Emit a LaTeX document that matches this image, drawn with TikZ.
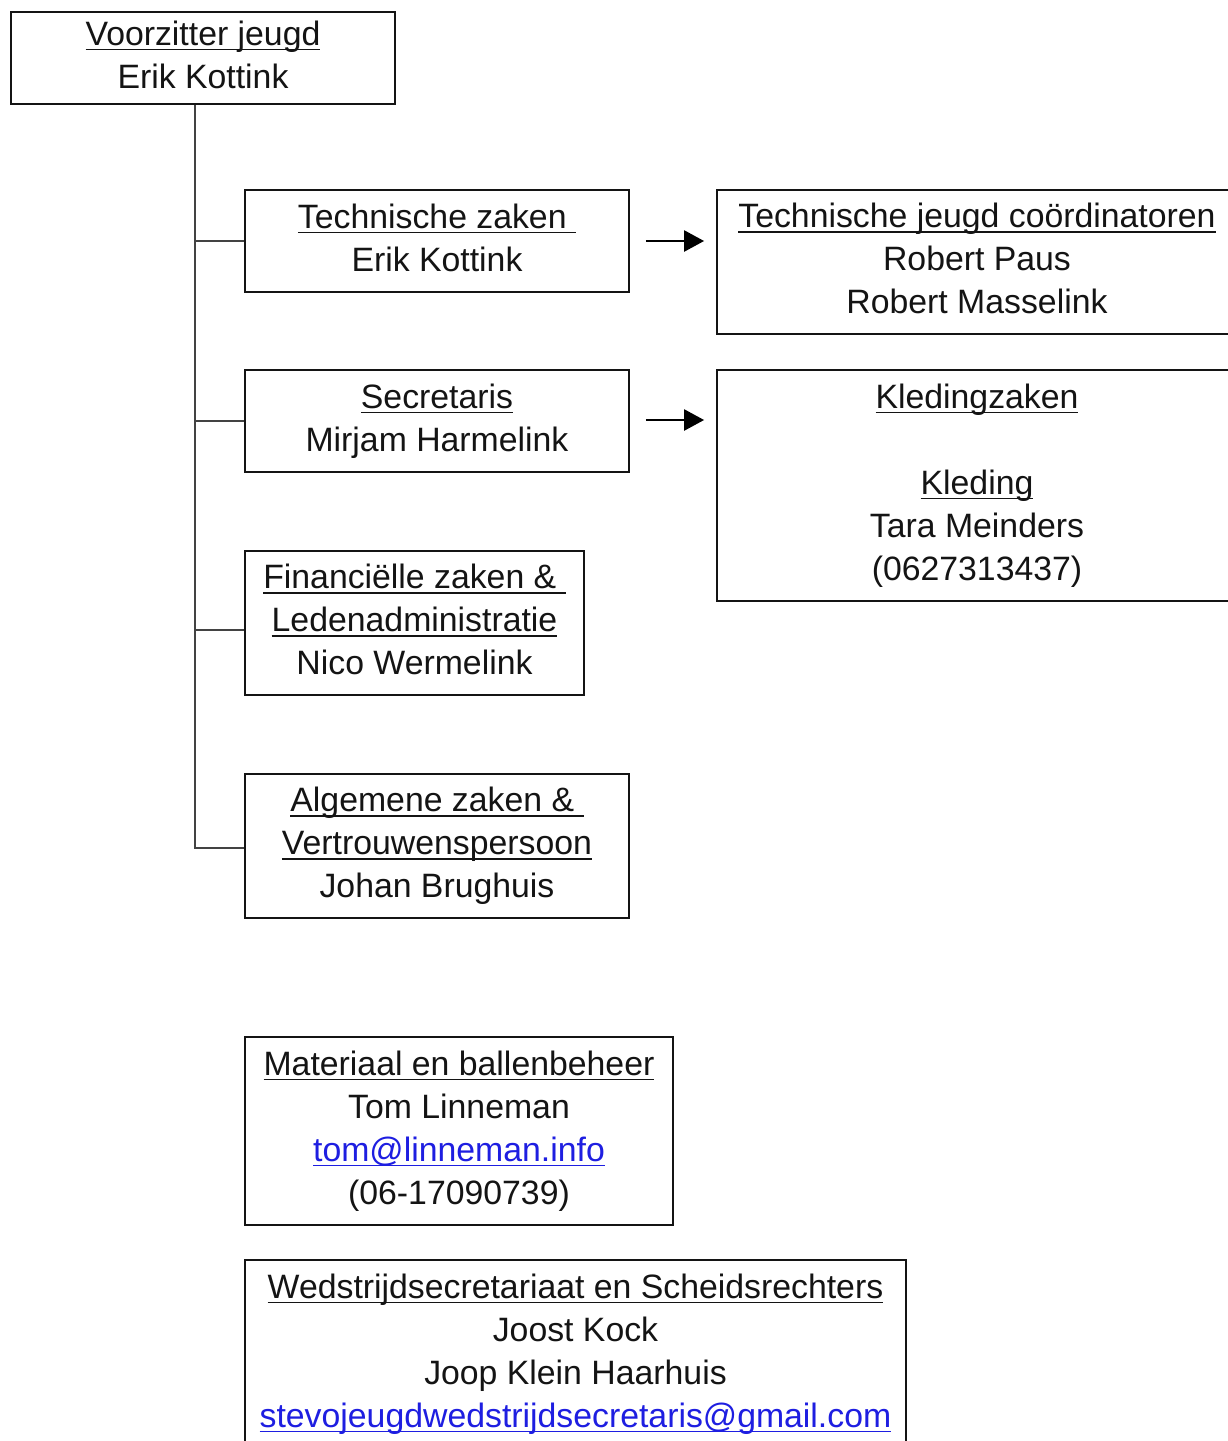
\documentclass[tikz,border=0pt]{standalone}
\usepackage{fontspec}
\setmainfont{Liberation Sans}
\usetikzlibrary{arrows.meta,calc}
\definecolor{linkblue}{RGB}{30,30,225}
\definecolor{ink}{RGB}{20,20,20}
\newcommand\ulin[1]{\leavevmode\setbox0\hbox{#1}\rlap{\rule[-5pt]{\wd0}{1.3pt}}\box0}
\newcommand\ulink[1]{{\color{linkblue}\ulin{#1}}}
\begin{document}
\begin{tikzpicture}[x=1pt,y=-1pt,
  box/.style={draw=ink,line width=1.8pt,inner sep=0pt,align=center,text=ink,
    font=\fontsize{33.8}{43}\selectfont,
    execute at begin node={\rule{0pt}{34.5pt}}},
  conn/.style={draw=ink!80,line width=1.5pt},
  arr/.style={draw=black,line width=2.5pt,-{Triangle[length=20pt,width=21pt]}}]
\fill[white] (0,0) rectangle (1228,1441);
\useasboundingbox (0,0) rectangle (1228,1441);

\node[box,minimum width=384pt,minimum height=92pt] (top) at (203,58)
  {\strut\ulin{Voorzitter jeugd}\\\strut Erik Kottink};
\node[box,minimum width=384pt,minimum height=102pt] (tz) at (437,241)
  {\strut\ulin{Technische zaken\ }\\\strut Erik Kottink};
\node[box,minimum width=384pt,minimum height=102pt] (sec) at (437,421)
  {\strut\ulin{Secretaris}\\\strut Mirjam Harmelink};
\node[box,minimum width=339pt,minimum height=144pt] (fin) at (414.5,623)
  {\strut\ulin{Financiëlle zaken \&\ }\\\strut\ulin{Ledenadministratie}\\\strut Nico Wermelink};
\node[box,minimum width=384pt,minimum height=144pt] (alg) at (437,846)
  {\strut\ulin{Algemene zaken \&\ }\\\strut\ulin{Vertrouwenspersoon}\\\strut Johan Brughuis};
\node[box,minimum width=520pt,minimum height=144pt] (tjc) at (977,262)
  {\strut\ulin{Technische jeugd coördinatoren}\\\strut Robert Paus\\\strut Robert Masselink};
\node[box,minimum width=520pt,minimum height=231pt] (kled) at (977,485.5)
  {\strut\ulin{Kledingzaken}\\\strut\\\strut\ulin{Kleding}\\\strut Tara Meinders\\\strut(0627313437)};
\node[box,minimum width=428pt,minimum height=188pt] (mat) at (459,1131)
  {\strut\ulin{Materiaal en ballenbeheer}\\\strut Tom Linneman\\\strut\ulink{tom@linneman.info}\\\strut(06-17090739)};
\node[box,minimum width=661pt,minimum height=188pt] (wed) at (575.5,1354)
  {\strut\ulin{Wedstrijdsecretariaat en Scheidsrechters}\\\strut Joost Kock\\\strut Joop Klein Haarhuis\\\strut\ulink{stevojeugdwedstrijdsecretaris@gmail.com}};

\coordinate (sp) at ([xshift=-8pt]top.south);
\draw[conn] (sp) |- ([yshift=-2pt]alg.west);
\draw[conn] (sp |- tz.west) -- (tz.west);
\draw[conn] (sp |- sec.west) -- (sec.west);
\draw[conn] (sp |- fin.west) ++(0,7) -- ([yshift=-7pt]fin.west);

\draw[arr] ([xshift=16pt]tz.east) -- ([xshift=-12pt]tjc.west |- tz.east);
\draw[arr] ([xshift=16pt,yshift=1pt]sec.east) -- ([xshift=-12pt,yshift=1pt]kled.west |- sec.east);
\end{tikzpicture}
\end{document}
